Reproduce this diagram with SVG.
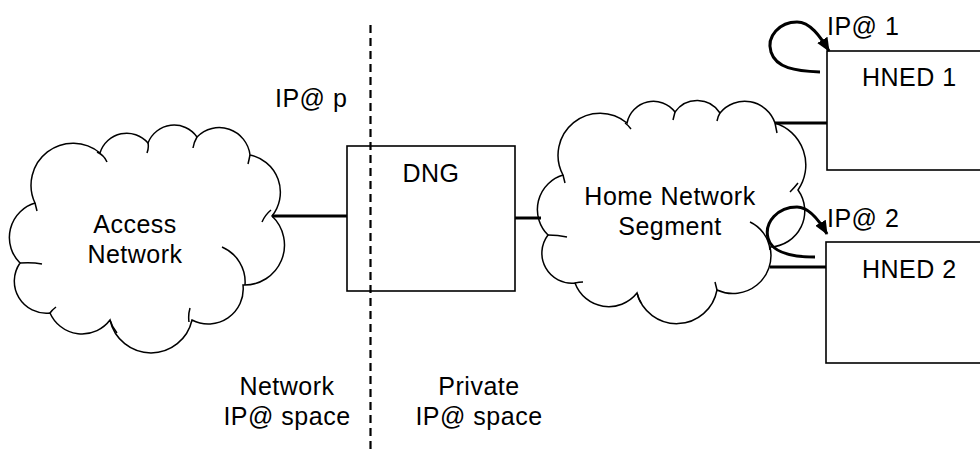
<svg xmlns="http://www.w3.org/2000/svg" width="980" height="451" viewBox="0 0 980 451">
<style>
.cloud{fill:#fff;stroke:#000;stroke-width:1.5}
.frag{fill:none;stroke:#000;stroke-width:1.5}
.box{fill:#fff;stroke:#000;stroke-width:1.6}
.link{fill:none;stroke:#000;stroke-width:3}
.loop{fill:none;stroke:#000;stroke-width:3}
.divider{fill:none;stroke:#000;stroke-width:2.2;stroke-dasharray:8 5}
text{font-family:"Liberation Sans",Arial,sans-serif;font-size:25px;letter-spacing:0.5px;fill:#000}
.c{text-anchor:middle}
</style>
<defs>
<marker id="head" viewBox="0 0 14 12" markerWidth="14" markerHeight="12" refX="13" refY="6" orient="auto" markerUnits="userSpaceOnUse">
<path d="M0,0 L14,6 L0,12 z" fill="#000"/>
</marker>
</defs>
<rect width="980" height="451" fill="#fff"/>

<g id="access-network">
<path class="cloud" d="M35,203 A42,42 0 0 1 100,153 A28,28 0 0 1 148,143 A28,28 0 0 1 197,137 A31,31 0 0 1 250,155 A38,38 0 0 1 272,216 A40,40 0 0 1 243,285 A35,35 0 0 1 192,320 A42,42 0 0 1 110,320 A35,35 0 0 1 50,313 A32,32 0 0 1 20,263 A36,36 0 0 1 35,203 Z"/>
<path class="frag" d="M97,152 Q104,155 107,162 M148,143 Q149,148 147,153 M197,137 Q194,142 193,148 M250,155 Q249,160 248,164 M262,222 Q265,215 271,210 M222,247 A38,38 0 0 1 245,285 M190,308 Q188,315 189,322 M110,320 Q112,327 117,333 M50,313 Q52,310 56,307 M20,263 Q32,262 42,264 M35,203 Q36,207 37,211"/>
<text class="c" x="135" y="233">Access</text>
<text class="c" x="135" y="263">Network</text>
</g>

<g id="dng">
<rect class="box" x="347" y="146" width="168" height="145"/>
<text class="c" x="431" y="182">DNG</text>
</g>

<g id="home-network">
<path class="cloud" d="M563,175 A42,42 0 0 1 627,123 A27,27 0 0 1 675,112 A27,27 0 0 1 720,113 A32,32 0 0 1 775,123 A44,44 0 0 1 798,190 A36,36 0 0 1 770,247 A38,38 0 0 1 717,290 A41,41 0 0 1 637,293 A36,36 0 0 1 575,283 A30,30 0 0 1 548,235 A36,36 0 0 1 563,175 Z"/>
<path class="frag" d="M563,175 Q564,179 565,183 M625,123 Q628,125 631,129 M675,112 Q674,116 673,120 M720,113 Q718,116 717,121 M775,123 Q776,128 777,133 M798,183 Q794,188 790,192 M750,222 A35,35 0 0 1 770,250 M717,290 Q716,286 715,282 M637,293 Q638,298 641,303 M575,283 Q579,282 583,282 M548,235 Q558,235 567,237"/>
<text class="c" x="670" y="205">Home Network</text>
<text class="c" x="670" y="235">Segment</text>
</g>

<g id="hned1">
<rect class="box" x="827" y="51" width="170" height="119"/>
<text x="862" y="86">HNED 1</text>
</g>

<g id="hned2">
<rect class="box" x="826" y="242" width="170" height="121"/>
<text x="862" y="278">HNED 2</text>
</g>

<g id="connectors">
<line class="divider" x1="370.5" y1="25" x2="370.5" y2="451"/>
<path class="link" d="M272,216 H347"/>
<path class="link" d="M515,218 H541"/>
<path class="link" d="M775,123 H827"/>
<path class="link" d="M770,267 H826"/>
<path class="loop" marker-end="url(#head)" d="M820,72 C795,71 776,68 771,52 C766,36 780,22 797,22 C810,22 820,36 829,51"/>
<path class="loop" marker-end="url(#head)" d="M815,257 C795,257 772,254 768,238 C764,222 778,207 797,207 C809,207 819,220 827,234"/>
</g>

<g id="labels">
<text x="275" y="107">IP@ p</text>
<text x="827" y="35">IP@ 1</text>
<text x="827" y="227">IP@ 2</text>
<text class="c" x="287" y="395">Network</text>
<text class="c" x="287" y="425">IP@ space</text>
<text class="c" x="479" y="395">Private</text>
<text class="c" x="479" y="425">IP@ space</text>
</g>
</svg>
